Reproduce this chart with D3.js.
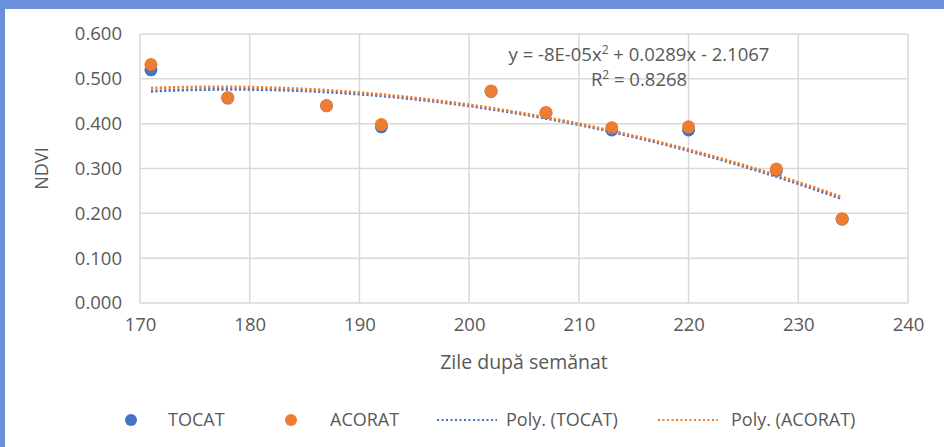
<!DOCTYPE html>
<html>
<head>
<meta charset="utf-8">
<script src="https://cdn.jsdelivr.net/npm/d3@7"></script>
<style>
  html, body { margin: 0; padding: 0; background: #ffffff; }
  svg { display: block; font-family: "Open Sans", "Noto Sans", sans-serif; }
</style>
</head>
<body>
<svg id="chart" width="944" height="447"></svg>
<script>
// Zile după semănat (days after sowing)
const days = [171, 178, 187, 192, 202, 207, 213, 220, 228, 234];
// NDVI per treatment
const tocat  = [0.520, 0.457, 0.440, 0.393, 0.472, 0.424, 0.386, 0.386, 0.296, 0.187];
const acorat = [0.532, 0.458, 0.440, 0.398, 0.473, 0.425, 0.391, 0.393, 0.299, 0.188];
const xTicks = [170, 180, 190, 200, 210, 220, 230, 240];
const yTicks = [0, 0.1, 0.2, 0.3, 0.4, 0.5, 0.6];
const seriesNames = ["TOCAT", "ACORAT"];
const trendNames = ["Poly. (TOCAT)", "Poly. (ACORAT)"];
const equationText = ["y = -8E-05x", "2", " + 0.0289x - 2.1067"];
const r2Text = ["R", "2", " = 0.8268"];

const colors = { TOCAT: "#4472C4", ACORAT: "#ED7D31" };
const textColor = "#595959";
const gridColor = "#d9d9d9";

const svg = d3.select("#chart");

// frame accents
svg.append("rect").attr("x", 0).attr("y", 0).attr("width", 944).attr("height", 9).attr("fill", "#6b8fdb");
svg.append("rect").attr("x", 0).attr("y", 0).attr("width", 5).attr("height", 447).attr("fill", "#6b8fdb");

const plot = { left: 140, right: 908, top: 34, bottom: 303 };

const x = d3.scaleLinear().domain([170, 240]).range([plot.left, plot.right]);
const y = d3.scaleLinear().domain([0, 0.6]).range([plot.bottom, plot.top]);

// gridlines
const grid = svg.append("g");
grid.selectAll("line.h").data(yTicks).join("line")
  .attr("x1", plot.left).attr("x2", plot.right)
  .attr("y1", d => y(d)).attr("y2", d => y(d))
  .attr("stroke", gridColor).attr("stroke-width", 1.5);
grid.selectAll("line.v").data(xTicks).join("line")
  .attr("y1", plot.top).attr("y2", plot.bottom)
  .attr("x1", d => x(d)).attr("x2", d => x(d))
  .attr("stroke", gridColor).attr("stroke-width", 1.5);

// axes (labels only)
const yAxis = svg.append("g").attr("transform", `translate(${plot.left - 18},0)`)
  .call(d3.axisLeft(y).tickValues(yTicks).tickFormat(d3.format(".3f")).tickSize(0).tickPadding(0));
const xAxis = svg.append("g").attr("transform", `translate(0,${plot.bottom + 15})`)
  .call(d3.axisBottom(x).tickValues(xTicks).tickFormat(d3.format("d")).tickSize(0).tickPadding(0));
[yAxis, xAxis].forEach(a => {
  a.select(".domain").remove();
  a.selectAll("text").attr("fill", textColor).style("font-size", "18.5px")
    .style("font-family", "'Open Sans', sans-serif");
});

// axis titles
svg.append("text").attr("x", (plot.left + plot.right) / 2).attr("y", 369)
  .attr("text-anchor", "middle").attr("fill", textColor).style("font-size", "19.5px")
  .text("Zile după semănat");
svg.append("text").attr("transform", `translate(48,${(plot.top + plot.bottom) / 2}) rotate(-90)`)
  .attr("text-anchor", "middle").attr("fill", textColor).style("font-size", "18px")
  .text("NDVI");

// least-squares quadratic fit
function polyFit2(xs, ys) {
  const n = xs.length;
  let s = [0, 0, 0, 0, 0], t = [0, 0, 0];
  for (let i = 0; i < n; i++) {
    let p = 1;
    for (let k = 0; k < 5; k++) { s[k] += p; if (k < 3) t[k] += p * ys[i]; p *= xs[i]; }
  }
  const A = [[s[0], s[1], s[2], t[0]], [s[1], s[2], s[3], t[1]], [s[2], s[3], s[4], t[2]]];
  for (let i = 0; i < 3; i++) {
    let m = i;
    for (let r = i + 1; r < 3; r++) if (Math.abs(A[r][i]) > Math.abs(A[m][i])) m = r;
    [A[i], A[m]] = [A[m], A[i]];
    for (let r = 0; r < 3; r++) {
      if (r === i) continue;
      const f = A[r][i] / A[i][i];
      for (let c = i; c < 4; c++) A[r][c] -= f * A[i][c];
    }
  }
  const c = A.map((row, i) => row[3] / row[i]);
  return v => c[0] + c[1] * v + c[2] * v * v;
}

const series = [
  { name: "TOCAT", values: tocat },
  { name: "ACORAT", values: acorat }
];

// markers
series.forEach(s => {
  svg.append("g").selectAll("circle").data(days.map((d, i) => [d, s.values[i]])).join("circle")
    .attr("cx", d => x(d[0])).attr("cy", d => y(d[1])).attr("r", 6.5)
    .attr("fill", colors[s.name]);
});

// trendlines
const xs = d3.range(days[0], days[days.length - 1] + 0.01, 0.5);
series.forEach(s => {
  const f = polyFit2(days, s.values);
  const line = d3.line().x(d => x(d)).y(d => y(f(d)));
  svg.append("path").datum(xs).attr("d", line)
    .attr("fill", "none").attr("stroke", colors[s.name])
    .attr("stroke-width", 2.8).attr("stroke-dasharray", "2.2,2.2");
});

// equation label
function supText(parts, cx, cy) {
  const t = svg.append("text").attr("x", cx).attr("y", cy).attr("text-anchor", "middle")
    .attr("fill", textColor).style("font-size", "18.5px");
  t.append("tspan").text(parts[0]);
  t.append("tspan").attr("dy", -7).style("font-size", "12px").text(parts[1]);
  t.append("tspan").attr("dy", 7).text(parts[2]);
}
supText(equationText, 639, 61);
supText(r2Text, 639, 86);

// legend
const legY = 420;
const lg = svg.append("g").attr("fill", textColor).style("font-size", "18px");
lg.append("circle").attr("cx", 131).attr("cy", legY).attr("r", 6).attr("fill", colors.TOCAT);
lg.append("text").attr("x", 168).attr("y", legY + 6).text(seriesNames[0]);
lg.append("circle").attr("cx", 291).attr("cy", legY).attr("r", 6).attr("fill", colors.ACORAT);
lg.append("text").attr("x", 330).attr("y", legY + 6).text(seriesNames[1]);
lg.append("line").attr("x1", 437).attr("x2", 497).attr("y1", legY).attr("y2", legY)
  .attr("stroke", colors.TOCAT).attr("stroke-width", 2).attr("stroke-dasharray", "2,2.5");
lg.append("text").attr("x", 506).attr("y", legY + 6).text(trendNames[0]);
lg.append("line").attr("x1", 658).attr("x2", 718).attr("y1", legY).attr("y2", legY)
  .attr("stroke", colors.ACORAT).attr("stroke-width", 2).attr("stroke-dasharray", "2,2.5");
lg.append("text").attr("x", 731).attr("y", legY + 6).text(trendNames[1]);
</script>
</body>
</html>
